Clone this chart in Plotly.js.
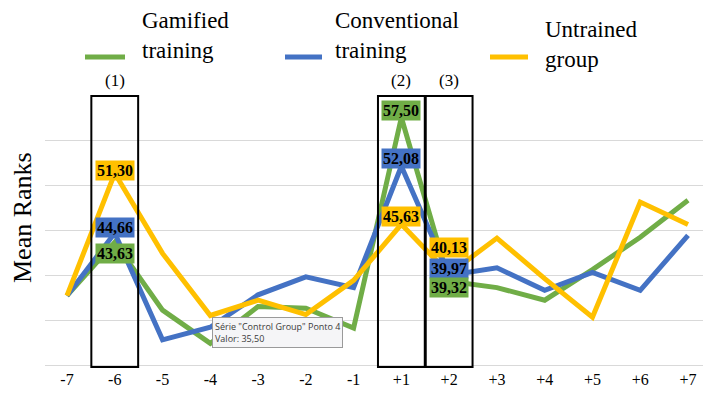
<!DOCTYPE html>
<html>
<head>
<meta charset="utf-8">
<script src="https://cdn.plot.ly/plotly-3.0.1.min.js"></script>
<style>html,body{margin:0;padding:0;background:#fff;}#chart{width:703px;height:393px;}</style>
</head>
<body>
<div id="chart"></div>
<script>
// ---- data ----
const categories = ['-7','-6','-5','-4','-3','-2','-1','+1','+2','+3','+4','+5','+6','+7'];
const gamified     = [37.7, 43.63, 36.1, 32.4, 36.5, 36.3, 34.1, 57.50, 39.32, 38.6, 37.2, 40.6, 44.2, 48.3];
const conventional = [37.7, 44.66, 32.8, 34.2, 37.8, 39.8, 38.6, 52.08, 39.97, 40.8, 38.3, 40.3, 38.3, 44.4];
const untrained    = [37.7, 51.30, 42.4, 35.50, 37.2, 35.6, 39.4, 45.63, 40.13, 44.1, 39.6, 35.3, 48.1, 45.6];
const seriesNames  = ['Gamified<br>training', 'Conventional<br>training', 'Untrained<br>group'];
const boxedIndices = [1, 7, 8];
const boxLabels    = ['(1)', '(2)', '(3)'];
const tooltipLines = ['Série "Control Group" Ponto 4', 'Valor: 35,50'];

const colors = ['#70ad47', '#4472c4', '#ffc000'];
const series = [gamified, conventional, untrained];
const SERIF = '"Times New Roman", "Liberation Serif", serif';

// plot geometry (pixels)
const L = 45, R = 703, T = 95, B = 365;
const px = x => (x - L) / (R - L);
const py = y => (B - y) / (B - T);

const traces = series.map((s, k) => ({
  type: 'scatter', mode: 'lines', x: categories, y: s,
  line: {color: colors[k], width: 5}, showlegend: false, hoverinfo: 'skip'
}));
const fmt = v => v.toFixed(2).replace('.', ',');

const annotations = [];
// data labels: [seriesIndex, pointIndex, yshift]
const labelSpecs = [
  [2, 1, 3], [1, 1, 6], [0, 1, -11],
  [0, 7, 7], [1, 7, 8], [2, 7, 8],
  [2, 8, 26], [1, 8, 7], [0, 8, -6]
];
labelSpecs.forEach(([k, i, ys]) => {
  annotations.push({
    x: i, y: series[k][i], xref: 'x', yref: 'y', yshift: ys,
    xanchor: 'center', yanchor: 'middle',
    text: '<b>' + fmt(series[k][i]) + '</b>', showarrow: false,
    font: {family: SERIF, size: 16, color: '#000'},
    bgcolor: colors[k], borderpad: 1
  });
});
// box labels
boxedIndices.forEach((i, j) => {
  annotations.push({
    x: i, y: py(80), xref: 'x', yref: 'paper', xanchor: 'center', yanchor: 'middle',
    text: boxLabels[j], showarrow: false,
    font: {family: SERIF, size: 17, color: '#000'}
  });
});
// y title
annotations.push({
  x: px(22), y: py(218), xref: 'paper', yref: 'paper', xanchor: 'center', yanchor: 'middle',
  text: 'Mean Ranks', textangle: -90, showarrow: false,
  font: {family: SERIF, size: 26, color: '#000'}
});
// legend
const legendSample = [[85, 125], [285, 322], [490, 528]];
const legendTextX = [140, 333, 543];
const legendTextY = [36, 36, 44];
const shapes = [];
series.forEach((s, k) => {
  shapes.push({type: 'line', xref: 'paper', yref: 'paper',
    x0: px(legendSample[k][0]), x1: px(legendSample[k][1]), y0: py(57), y1: py(57),
    line: {color: colors[k], width: 5}});
  annotations.push({
    x: px(legendTextX[k]), y: py(legendTextY[k]), xref: 'paper', yref: 'paper',
    xanchor: 'left', yanchor: 'middle', align: 'left', text: seriesNames[k], showarrow: false,
    font: {family: SERIF, size: 23, color: '#000'}
  });
});
// boxes
boxedIndices.forEach(i => {
  shapes.push({type: 'rect', xref: 'x', yref: 'paper',
    x0: i - 0.49, x1: i + 0.49, y0: py(367), y1: py(96),
    line: {color: '#000', width: 2}, fillcolor: 'rgba(0,0,0,0)'});
});
// tooltip
annotations.push({
  x: px(212), y: py(317), xref: 'paper', yref: 'paper', xanchor: 'left', yanchor: 'top',
  align: 'left', text: tooltipLines.join('<br>'), showarrow: false,
  font: {family: 'Open Sans', size: 9, color: '#3a3a3a'},
  bgcolor: '#f5f5f7', bordercolor: '#9a9a9a', borderwidth: 1, borderpad: 2
});

const layout = {
  width: 703, height: 393,
  margin: {l: L, r: 703 - R, t: T, b: 393 - B, pad: 0},
  paper_bgcolor: '#fff', plot_bgcolor: '#fff',
  xaxis: {type: 'category', range: [-0.46, 13.314], showgrid: false, zeroline: false,
    showline: true, linecolor: '#d9d9d9', linewidth: 1, ticks: '',
    tickfont: {family: SERIF, size: 16, color: '#000'}},
  yaxis: {range: [30, 60], dtick: 5, showgrid: true, gridcolor: '#d9d9d9', gridwidth: 1,
    zeroline: false, showticklabels: false, ticks: ''},
  shapes: shapes, annotations: annotations, showlegend: false
};
Plotly.newPlot('chart', traces, layout, {displayModeBar: false, staticPlot: true});
</script>
</body>
</html>
